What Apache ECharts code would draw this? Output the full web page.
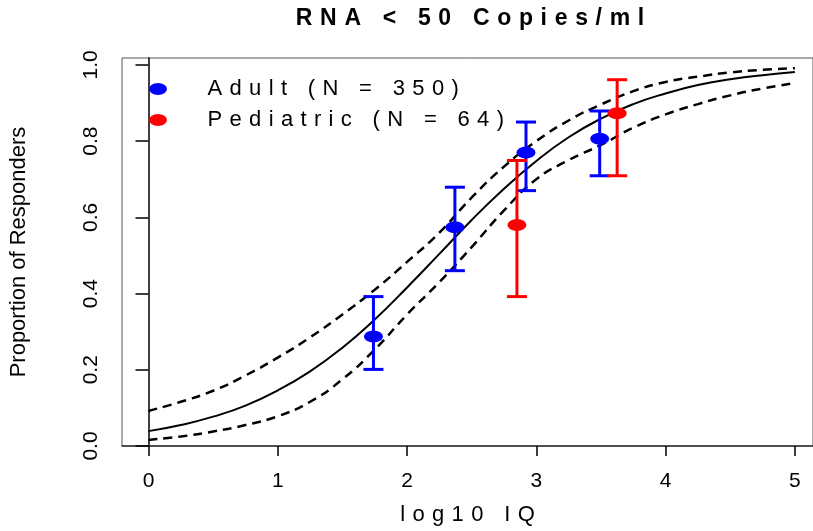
<!DOCTYPE html>
<html>
<head>
<meta charset="utf-8">
<script src="https://cdn.jsdelivr.net/npm/echarts@6/dist/echarts.min.js"></script>
<style>
html,body{margin:0;padding:0;background:#fff;}
#chart{width:813px;height:531px;}
</style>
</head>
<body>
<div id="chart"></div>
<script>
// ---- data ----
const curveX   = [0,0.25,0.5,0.75,1,1.25,1.5,1.75,2,2.25,2.5,2.75,3,3.25,3.5,3.75,4,4.25,4.5,4.75,5];
const fitMid   = [0.039,0.055,0.077,0.106,0.146,0.196,0.258,0.332,0.416,0.504,0.593,0.675,0.748,0.810,0.859,0.897,0.925,0.947,0.962,0.973,0.981];
const fitUpper = [0.092,0.116,0.145,0.185,0.232,0.285,0.345,0.410,0.483,0.560,0.652,0.733,0.800,0.854,0.896,0.931,0.955,0.969,0.980,0.987,0.991];
const fitLower = [0.016,0.025,0.038,0.055,0.078,0.116,0.175,0.253,0.345,0.430,0.522,0.618,0.700,0.750,0.790,0.835,0.870,0.897,0.920,0.938,0.952];

const adultX  = [1.74, 2.37, 2.92, 3.49];
const adultY  = [0.287, 0.574, 0.770, 0.806];
const adultLo = [0.201, 0.460, 0.670, 0.709];
const adultHi = [0.392, 0.679, 0.850, 0.879];

const pedX  = [2.85, 3.625];
const pedY  = [0.580, 0.873];
const pedLo = [0.392, 0.709];
const pedHi = [0.749, 0.961];

const xTicks = [0,1,2,3,4,5];
const yTicks = [0,0.2,0.4,0.6,0.8,1.0];

const titleText  = 'RNA < 50 Copies/ml';
const xNameText  = 'log10 IQ';
const yNameText  = 'Proportion of Responders';
const adultName  = 'Adult (N = 350)';
const pedName    = 'Pediatric (N = 64)';

// ---- helpers ----
const GAP = '\u2004';
function spaced(s){ return s.split('').join(GAP); }
const ellipse = 'path://M0,6 A9,6 0 1,1 18,6 A9,6 0 1,1 0,6 Z';
const FONT = '"Liberation Sans", Arial, sans-serif';

function pairs(xs, ys){ return xs.map((x,i)=>[x, ys[i]]); }
function errData(xs, lo, hi){ return xs.map((x,i)=>[x, lo[i], hi[i]]); }

function errorBar(color){
  return function(params, api){
    const x = api.value(0), lo = api.value(1), hi = api.value(2);
    const pLo = api.coord([x, lo]);
    const pHi = api.coord([x, hi]);
    const hw = 10;
    const st = {stroke: color, lineWidth: 3};
    return {type:'group', children:[
      {type:'line', shape:{x1:pLo[0], y1:pLo[1], x2:pHi[0], y2:pHi[1]}, style:st},
      {type:'line', shape:{x1:pLo[0]-hw, y1:pLo[1], x2:pLo[0]+hw, y2:pLo[1]}, style:st},
      {type:'line', shape:{x1:pHi[0]-hw, y1:pHi[1], x2:pHi[0]+hw, y2:pHi[1]}, style:st}
    ]};
  };
}

const chart = echarts.init(document.getElementById('chart'), null, {renderer:'canvas'});
const option = {
  animation:false,
  backgroundColor:'#fff',
  title:{
    text: spaced(titleText),
    left: 470, top: 7, textAlign:'center', padding:0,
    textStyle:{fontFamily:FONT, fontSize:23, fontWeight:'bold', color:'#000'}
  },
  legend:{
    orient:'vertical', left:144, top:73, itemWidth:19, itemHeight:12, itemGap:9,
    data:[{name:adultName, icon:ellipse},{name:pedName, icon:ellipse}],
    formatter: function(n){ return spaced(n); },
    textStyle:{fontFamily:FONT, fontSize:22, color:'#000', padding:[0,0,0,35]}
  },
  grid:{left:122, right:0, top:58, bottom:85, show:true, borderColor:'#555', borderWidth:1},
  xAxis:{
    type:'value', min:-0.205, max:5.14,
    name: spaced(xNameText), nameLocation:'middle', nameGap:58,
    nameTextStyle:{fontFamily:FONT, fontSize:22, color:'#000'},
    axisLine:{show:true, lineStyle:{color:'#333', width:1.5}},
    axisTick:{show:true, inside:false, length:10, customValues:xTicks, lineStyle:{color:'#000', width:1.5}},
    axisLabel:{customValues:xTicks, margin:25, fontFamily:FONT, fontSize:21, color:'#000',
      formatter:function(v){return String(v);}},
    splitLine:{show:false}
  },
  yAxis:{
    type:'value', min:0, max:1.018,
    name: yNameText, nameLocation:'middle', nameGap:92,
    nameTextStyle:{fontFamily:FONT, fontSize:22, color:'#000'},
    axisLine:{show:true, lineStyle:{color:'#000', width:1.5}},
    axisTick:{show:true, inside:false, length:13, customValues:yTicks, lineStyle:{color:'#000', width:1.5}},
    axisLabel:{customValues:yTicks, rotate:90, margin:20, fontFamily:FONT, fontSize:21, color:'#000',
      formatter:function(v){return v.toFixed(1);}},
    splitLine:{show:false}
  },
  series:[
    {type:'line', name:'fit', data:pairs(curveX, fitMid), smooth:true, showSymbol:false, symbol:'none',
      lineStyle:{color:'#000', width:2}, z:2},
    {type:'line', name:'upper', data:pairs(curveX, fitUpper), smooth:true, showSymbol:false, symbol:'none',
      lineStyle:{color:'#000', width:2.5, type:[9,6]}, z:2},
    {type:'line', name:'lower', data:pairs(curveX, fitLower), smooth:true, showSymbol:false, symbol:'none',
      lineStyle:{color:'#000', width:2.5, type:[9,6]}, z:2},
    {type:'custom', name:'adultErr', renderItem:errorBar('#0000ff'), data:errData(adultX, adultLo, adultHi),
      encode:{x:0, y:[1,2]}, z:3},
    {type:'custom', name:'pedErr', renderItem:errorBar('#ff0000'), data:errData(pedX, pedLo, pedHi),
      encode:{x:0, y:[1,2]}, z:3},
    {type:'scatter', name:adultName, data:pairs(adultX, adultY), symbol:ellipse, symbolSize:[19,12],
      itemStyle:{color:'#0000ff', opacity:1}, z:4},
    {type:'scatter', name:pedName, data:pairs(pedX, pedY), symbol:ellipse, symbolSize:[19,12],
      itemStyle:{color:'#ff0000', opacity:1}, z:4}
  ]
};
chart.setOption(option);
</script>
</body>
</html>
